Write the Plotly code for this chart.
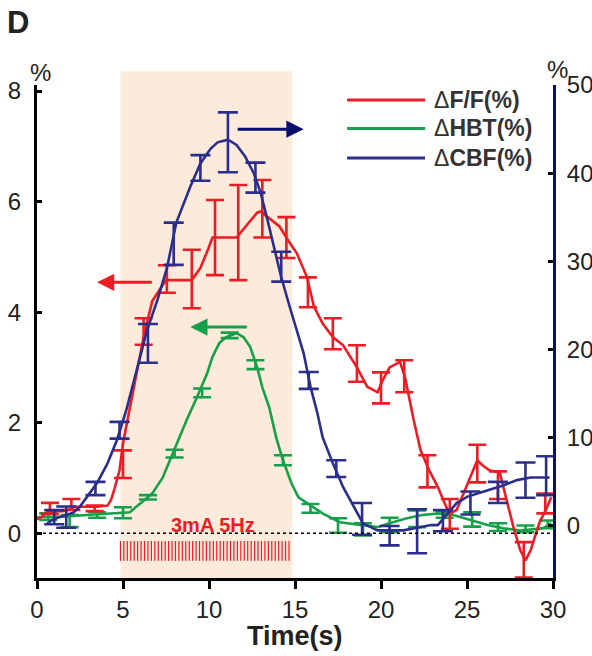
import plotly.graph_objects as go

# ---------------- data ----------------
# ΔF/F (%)  – left axis
red_t = [0, 0.3, 0.6, 1.0, 1.5, 1.8, 2.2, 2.5, 3.0, 3.5, 4.1, 4.3, 4.5, 4.8, 5.0, 5.3, 5.5, 5.9, 6.2, 6.7,
         7.3, 7.5, 9.0, 9.5, 9.9, 10.2, 11.6, 12.2, 12.8, 13.0, 13.4, 14.1, 14.7, 15.1, 15.7, 16.1, 16.6,
         17.2, 17.8, 18.6, 19.2, 19.8, 20.1, 20.5, 21.1, 21.4, 21.9, 22.3, 22.8, 23.3, 23.8, 24.0, 24.4,
         24.8, 25.2, 25.6, 25.9, 26.3, 26.9, 27.3, 27.7, 28.1, 28.4, 28.7, 29.2, 29.65, 29.9]
red_v = [0.25, 0.3, 0.38, 0.40, 0.40, 0.42, 0.48, 0.48, 0.48, 0.48, 0.5, 0.6, 0.8, 1.14, 1.63, 2.1, 2.45,
         3.1, 3.55, 4.2, 4.5, 4.58, 4.58, 4.8, 5.1, 5.35, 5.35, 5.57, 5.8, 5.82, 5.72, 5.55, 5.25, 5.07,
         4.63, 4.1, 3.8, 3.55, 3.4, 3.0, 2.65, 2.55, 2.77, 3.0, 3.1, 2.82, 2.05, 1.5, 1.14, 0.84, 0.47,
         0.36, 0.42, 0.72, 1.0, 1.32, 1.23, 1.14, 1.1, 0.6, 0.11, -0.31, -0.49, -0.31, 0.18, 0.47, 0.65]
red_err_t = [0.75, 2.0, 3.35, 5.0, 6.2, 7.55, 9.0, 10.35, 11.7, 13.1, 14.5, 15.75, 17.2, 18.6, 20.0,
             21.35, 22.7, 24.0, 25.6, 26.8, 28.3, 29.55]
red_err_c = [0.45, 0.52, 0.45, 1.25, 3.65, 4.6, 4.6, 5.35, 5.44, 5.87, 5.35, 4.36, 3.61, 3.07, 2.63,
             2.84, 1.12, 0.35, 1.26, 0.87, -0.48, 0.54]
red_err_e = [0.1, 0.1, 0.05, 0.25, 0.24, 0.25, 0.53, 0.68, 0.86, 0.52, 0.37, 0.27, 0.28, 0.33, 0.28,
             0.29, 0.29, 0.27, 0.34, 0.25, 0.32, 0.18]

# ΔHBT (%)  – left axis
grn_t = [0, 1.5, 2.9, 4.1, 5.4, 6.0, 6.7, 7.3, 7.9, 8.7, 9.3, 9.9, 10.2, 10.6, 11.0, 11.6, 12.0, 12.4,
         12.8, 13.1, 13.5, 13.9, 14.3, 14.8, 15.2, 15.9, 16.6, 17.6, 18.6, 19.8, 20.5, 21.5, 22.4, 23.4,
         24.2, 25.2, 26.2, 27.1, 28.1, 29.4, 29.9]
grn_v = [0.29, 0.3, 0.33, 0.36, 0.38, 0.54, 0.72, 1.0, 1.45, 2.05, 2.46, 2.9, 3.19, 3.44, 3.55, 3.62,
         3.55, 3.37, 3.0, 2.64, 2.28, 1.74, 1.32, 0.9, 0.65, 0.5, 0.36, 0.2, 0.16, 0.11, 0.18, 0.27,
         0.33, 0.36, 0.33, 0.24, 0.15, 0.09, 0.05, 0.09, 0.18]
grn_err_t = [0.65, 1.9, 3.5, 5.0, 6.45, 8.0, 9.6, 11.2, 12.7, 14.3, 15.9, 17.5, 18.95, 20.5, 22.1,
             23.7, 25.3, 26.8, 28.4, 29.7]
grn_err_c = [0.3, 0.22, 0.33, 0.37, 0.65, 1.44, 2.54, 3.58, 3.05, 1.32, 0.45, 0.14, 0.07, 0.15, 0.26,
             0.33, 0.25, 0.11, 0.08, 0.16]
grn_err_e = [0.06, 0.11, 0.05, 0.1, 0.04, 0.07, 0.08, 0.05, 0.08, 0.09, 0.08, 0.13, 0.11, 0.13, 0.15,
             0.05, 0.13, 0.07, 0.06, 0.07]

# ΔCBF (%)  – right axis
blu_t = [0.6, 0.9, 1.3, 2.1, 2.5, 2.9, 3.5, 4.1, 4.65, 5.2, 5.8, 6.4, 7.0, 7.55, 8.1, 8.9, 9.5, 10.1,
         10.5, 11.1, 11.6, 12.1, 12.6, 13.0, 13.4, 13.8, 14.2, 14.7, 15.1, 15.5, 15.9, 16.3, 16.6, 17.2,
         17.8, 18.4, 18.95, 19.8, 20.5, 21.3, 22.1, 22.9, 23.3, 23.8, 24.4, 25.0, 25.6, 26.3, 27.1, 27.9,
         28.7, 29.8]
blu_v = [0.3, 0.7, 1.0, 1.5, 2.2, 3.3, 4.9, 7.1, 9.75, 13.2, 17.7, 22.2, 25.6, 29.2, 34.4, 38.4, 41.1,
         42.8, 43.5, 43.8, 43.2, 41.9, 40.0, 37.8, 34.7, 31.6, 28.2, 24.8, 22.2, 19.6, 15.8, 12.8, 10.1,
         7.1, 4.4, 2.2, 0.3, -0.5, -0.5, -0.5, -0.2, 0.1, 0.1, 1.2, 2.6, 3.3, 3.7, 4.1, 4.6, 5.2, 5.5, 5.5]
blu_err_t = [1.0, 1.7, 3.4, 4.8, 6.45, 7.95, 9.5, 11.1, 12.7, 14.2, 15.8, 17.4, 18.9, 20.5, 22.1, 23.6,
             25.2, 26.8, 28.4, 29.6]
blu_err_c = [1.0, 1.0, 4.25, 10.85, 20.7, 32.0, 40.6, 43.5, 39.5, 29.4, 16.5, 6.5, 0.8, -1.1, -0.6, 0.6,
             2.6, 3.8, 5.2, 5.7]
blu_err_e = [0.8, 1.2, 0.75, 0.95, 2.2, 2.4, 1.45, 3.4, 1.7, 1.7, 0.95, 0.95, 1.8, 1.1, 2.5, 1.2, 1.3,
             1.2, 2.0, 2.2]

# stimulation
stim_start, stim_end = 4.85, 14.85
pulse_rate_hz = 5
pulse_low, pulse_high = -0.5, -0.14

x_ticks = [0, 5, 10, 15, 20, 25, 30]
yl_ticks = [0, 2, 4, 6, 8]
yr_ticks = [0, 10, 20, 30, 40, 50]

RED = "#EC1C24"
GREEN = "#16A04A"
BLUE = "#2B2E8C"
NAVY = "#0B0F6E"
FONT = "Liberation Sans, Arial, sans-serif"

fig = go.Figure()

# stimulation pulses
n_pulses = int(round((stim_end - stim_start) * pulse_rate_hz))
px, py = [], []
for i in range(n_pulses):
    t = stim_start - 0.1 + (i + 0.5) / pulse_rate_hz
    px += [t, t, None]
    py += [pulse_low, pulse_high, None]
fig.add_trace(go.Scatter(x=px, y=py, mode="lines", line=dict(color=RED, width=1.2),
                         hoverinfo="skip"))

# CBF (right axis)
fig.add_trace(go.Scatter(x=blu_t, y=blu_v, mode="lines", line=dict(color=BLUE, width=2.6),
                         yaxis="y2"))
fig.add_trace(go.Scatter(x=blu_err_t, y=blu_err_c, mode="markers", marker=dict(size=1, opacity=0),
                         error_y=dict(type="data", array=blu_err_e, color=BLUE, thickness=2.6, width=10),
                         yaxis="y2"))
# HBT
fig.add_trace(go.Scatter(x=grn_t, y=grn_v, mode="lines", line=dict(color=GREEN, width=2.6)))
fig.add_trace(go.Scatter(x=grn_err_t, y=grn_err_c, mode="markers", marker=dict(size=1, opacity=0),
                         error_y=dict(type="data", array=grn_err_e, color=GREEN, thickness=2.6, width=9)))
# F/F
fig.add_trace(go.Scatter(x=red_t, y=red_v, mode="lines", line=dict(color=RED, width=2.6)))
fig.add_trace(go.Scatter(x=red_err_t, y=red_err_c, mode="markers", marker=dict(size=1, opacity=0),
                         error_y=dict(type="data", array=red_err_e, color=RED, thickness=2.6, width=9)))

shapes = [
    dict(type="rect", xref="x", yref="paper", x0=stim_start, x1=stim_end, y0=0, y1=1.028,
         fillcolor="#FCEBDB", line=dict(width=0), layer="below"),
    dict(type="line", xref="x", yref="y", x0=0, x1=30, y0=0, y1=0,
         line=dict(color="black", width=1.3, dash="dot")),
]

# legend (manual, long line samples)
legend_items = [("Δ<b>F/F(%)</b>", RED, 0.9696), ("Δ<b>HBT(%)</b>", GREEN, 0.9118),
                ("Δ<b>CBF(%)</b>", BLUE, 0.8519)]
annotations = []
for label, col, yy in legend_items:
    shapes.append(dict(type="line", xref="paper", yref="paper", x0=0.601, x1=0.752, y0=yy, y1=yy,
                       line=dict(color=col, width=3)))
    annotations.append(dict(xref="paper", yref="paper", x=0.765, y=yy, xanchor="left",
                            yanchor="middle", text=label, showarrow=False,
                            font=dict(family=FONT, size=23, color="#333333")))

# direction arrows (tip, tail)
arrows = [
    (3.49, 4.54, 6.76, 4.54, RED),
    (8.91, 3.73, 12.29, 3.73, GREEN),
    (15.5, 7.31, 11.58, 7.31, NAVY),
]
for xt, yt, xa, ya, col in arrows:
    annotations.append(dict(x=xt, y=yt, ax=xa, ay=ya, xref="x", yref="y", axref="x", ayref="y",
                            text="", showarrow=True, arrowhead=2, arrowsize=1.15, arrowwidth=3,
                            arrowcolor=col, standoff=0, startstandoff=0))

annotations += [
    dict(xref="paper", yref="paper", x=-0.062, y=1.126, xanchor="left", yanchor="middle",
         text="<b>D</b>", showarrow=False, font=dict(family=FONT, size=31, color="#222222")),
    dict(xref="paper", yref="paper", x=-0.018, y=1.026, xanchor="left", yanchor="middle",
         text="%", showarrow=False, font=dict(family=FONT, size=24, color="#222222")),
    dict(xref="paper", yref="paper", x=0.985, y=1.032, xanchor="left", yanchor="middle",
         text="%", showarrow=False, font=dict(family=FONT, size=24, color="#222222")),
    dict(xref="x", yref="y", x=10.25, y=0.14, xanchor="center", yanchor="middle",
         text="<b>3mA 5Hz</b>", showarrow=False, font=dict(family=FONT, size=20, color=RED)),
    dict(xref="paper", yref="paper", x=0.5, y=-0.118, xanchor="center", yanchor="middle",
         text="<b>Time(s)</b>", showarrow=False, font=dict(family=FONT, size=27, color="#222222")),
]

fig.update_layout(
    width=592, height=656,
    margin=dict(l=37, r=39, t=85, b=78),
    paper_bgcolor="white", plot_bgcolor="white",
    showlegend=False, hovermode=False,
    font=dict(family=FONT, size=24, color="#222222"),
    shapes=shapes, annotations=annotations,
    xaxis=dict(range=[0, 30], tickvals=x_ticks, showgrid=False, zeroline=False, automargin=False,
               showline=True, linecolor="black", linewidth=3,
               ticks="outside", ticklen=8, tickwidth=2.5, tickcolor="black",
               ticklabelstandoff=0, tickfont=dict(size=24)),
    yaxis=dict(range=[-0.81, 8.11], tickvals=yl_ticks, showgrid=False, zeroline=False,
               automargin=False,
               showline=True, linecolor="black", linewidth=3,
               ticks="inside", ticklen=5, tickwidth=3, tickcolor="black",
               ticklabelstandoff=8, tickfont=dict(size=24)),
    yaxis2=dict(range=[-5.9, 50], tickvals=yr_ticks, overlaying="y", side="right", automargin=False,
                showgrid=False, zeroline=False, showline=True, linecolor=NAVY, linewidth=3,
                ticks="inside", ticklen=5, tickwidth=3, tickcolor="black",
                ticklabelstandoff=6, tickfont=dict(size=24)),
)

# remove the default page margin so the 592x656 figure fills the window exactly
fig.write_html(
    "out.html",
    config={"displayModeBar": False},
    post_script="document.body.style.margin='0';document.documentElement.style.overflow='hidden';",
)
